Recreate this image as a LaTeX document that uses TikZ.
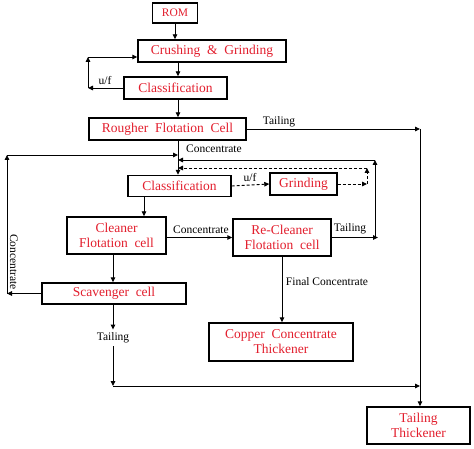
\documentclass[tikz,border=0pt]{standalone}
\usepackage{fontspec}
\setmainfont{Liberation Serif}
\usetikzlibrary{arrows.meta}
\definecolor{boxred}{RGB}{226,30,45}

\tikzset{
  unit/.style={draw, line width=1.4pt, text=boxred, align=center, inner sep=0pt,
    font=\fontsize{13.5}{15}\selectfont},
  flow/.style={line width=0.9pt, -{Triangle[length=5pt,width=4.5pt]}},
  dflow/.style={flow, dash pattern=on 3pt off 2pt},
  lbl/.style={font=\fontsize{11.5}{13}\selectfont, inner sep=0pt},
}

\begin{document}
\begin{tikzpicture}[x=1pt, y=-1pt]

\useasboundingbox (0,0) rectangle (474,449);

% Process units
\node[unit, minimum width=45pt,  minimum height=20pt, font=\fontsize{11.5}{13}\selectfont] (rom) at (175,13) {ROM};
\node[unit, minimum width=148pt, minimum height=22pt] (crush)     at (212,51)      {Crushing \ \& \ Grinding};
\node[unit, minimum width=103pt, minimum height=22pt] (class1)    at (175.5,88)    {Classification};
\node[unit, minimum width=157pt, minimum height=22pt] (rougher)   at (167.5,129)   {Rougher \ Flotation \ Cell};
\node[unit, minimum width=103pt, minimum height=21pt] (class2)    at (179.5,186)   {Classification};
\node[unit, minimum width=67pt,  minimum height=22pt] (grind)     at (303.5,184)   {Grinding};
\node[unit, minimum width=99pt,  minimum height=37pt] (cleaner)   at (116.5,235.5) {Cleaner\\Flotation \ cell};
\node[unit, minimum width=98pt,  minimum height=37pt] (recleaner) at (282,237.5)   {Re-Cleaner\\Flotation \ cell};
\node[unit, minimum width=144pt, minimum height=21pt] (scav)      at (114,293.5)   {Scavenger \ cell};
\node[unit, minimum width=144pt, minimum height=38pt] (copper)    at (281,342)     {Copper \ Concentrate\\Thickener};
\node[unit, minimum width=103pt, minimum height=37pt] (tthick)    at (418.5,425.5) {Tailing\\Thickener};

% Corners of the connectors
\coordinate (spine) at (178,0);
\coordinate (col1)  at (144,0);
\coordinate (col2)  at (113,0);
\coordinate (jn)    at (178,155);
\coordinate (ufa)   at (88,88);
\coordinate (ufb)   at (88,57);
\coordinate (tr)    at (420,129);
\coordinate (tj)    at (420,386);
\coordinate (rt)    at (375,237.5);
\coordinate (rtop)  at (375,160);
\coordinate (ga)    at (367,184);
\coordinate (gb)    at (367,168);
\coordinate (sa)    at (7,293.5);
\coordinate (sb)    at (7,155);
\coordinate (sj)    at (113,386);

% Main line
\draw[flow] (rom.south) -- (rom.south |- crush.north);
\draw[flow] (spine |- crush.south) -- (spine |- class1.north);
\draw[flow] (spine |- class1.south) -- (spine |- rougher.north);
\draw[flow] (spine |- rougher.south) -- (spine |- class2.north);

% Underflow back to crushing
\draw[flow] (class1.west) -- (ufa);
\draw[flow] (ufa) -- (ufb);
\draw[flow] (ufb) -- (ufb -| crush.west);

% Rougher tailing
\draw[flow] (rougher.east) -- (tr);
\draw[flow] (tr) -- (tr |- tthick.north);

% Regrind loop
\draw[dflow] (class2.east) -- (grind.west);
\draw[dflow] (grind.east) -- (ga);
\draw[dflow] (ga) -- (gb);
\draw[dflow] (gb) -- (spine |- gb);

% Cleaner circuit
\draw[flow] (col1 |- class2.south) -- (col1 |- cleaner.north);
\draw[flow] (cleaner.east |- recleaner.west) -- (recleaner.west);
\draw[flow] (recleaner.east) -- ([xshift=3pt]rt);
\draw[flow] (rt) -- (rtop);
\draw[flow] (rtop) -- (spine |- rtop);
\draw[flow] (recleaner.south) -- (recleaner.south |- copper.north);

% Scavenger
\draw[flow] (col2 |- cleaner.south) -- (col2 |- scav.north);
\draw[flow] (scav.west) -- (sa);
\draw[flow] (sa) -- (sb);
\draw[flow] (sb) -- (jn);

% Labels
\node[lbl] (lufa)   at (105,81)   {u/f};
\node[lbl] (lconc)  at (214,149)  {Concentrate};
\node[lbl] (ltailr) at (279,122)  {Tailing};
\node[lbl] (lufb)   at (250,178)  {u/f};
\node[lbl] (lconcc) at (201,230)  {Concentrate};
\node[lbl] (ltailc) at (350,229)  {Tailing};
\node[lbl] (lfinal) at (327,282)  {Final Concentrate};
\node[lbl, rotate=-90] (lconcs) at (14,262) {Concentrate};
\node[lbl] (ltails) at (113,338)  {Tailing};

% Scavenger tailing
\draw[flow] (col2 |- scav.south) -- ([yshift=3pt]ltails.north);
\draw[flow] (ltails.south) ++(0,3) -- (sj);
\draw[flow] (sj) -- (tj);

\end{tikzpicture}
\end{document}
